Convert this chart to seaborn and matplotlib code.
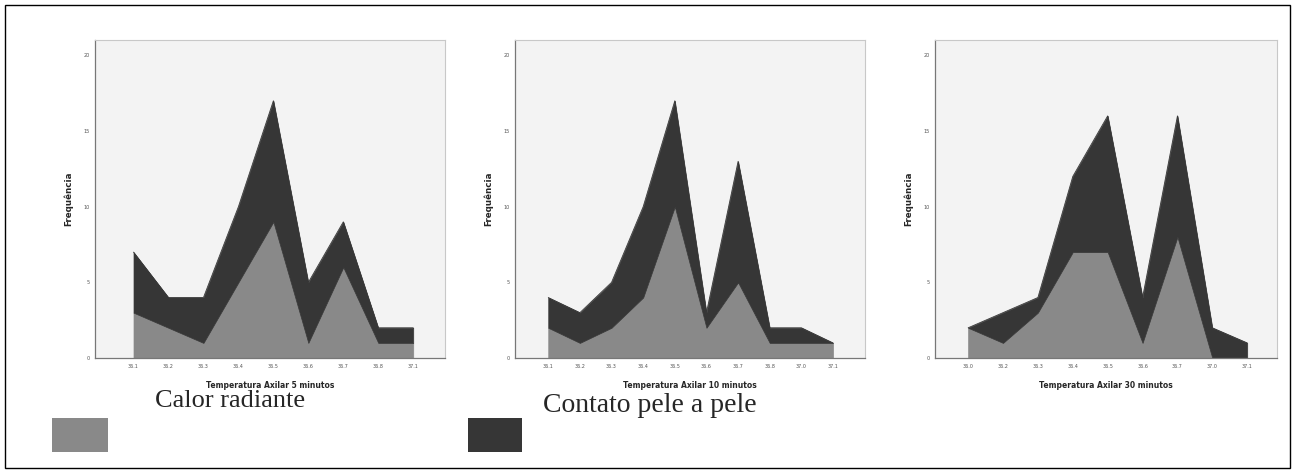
import numpy as np
import pandas as pd
import seaborn as sns
import matplotlib.pyplot as plt
from matplotlib.patches import Rectangle

# Data (frequencies per axillary temperature)
temps_5 = ["36.1", "36.2", "36.3", "36.4", "36.5", "36.6", "36.7", "36.8", "37.1"]
calor_5 = [3, 2, 1, 5, 9, 1, 6, 1, 1]
contato_5 = [4, 2, 3, 5, 8, 4, 3, 1, 1]

temps_10 = ["36.1", "36.2", "36.3", "36.4", "36.5", "36.6", "36.7", "36.8", "37.0", "37.1"]
calor_10 = [2, 1, 2, 4, 10, 2, 5, 1, 1, 1]
contato_10 = [2, 2, 3, 6, 7, 1, 8, 1, 1, 0]

temps_30 = ["36.0", "36.2", "36.3", "36.4", "36.5", "36.6", "36.7", "37.0", "37.1"]
calor_30 = [2, 1, 3, 7, 7, 1, 8, 0, 0]
contato_30 = [0, 2, 1, 5, 9, 3, 8, 2, 1]

xlabels = ["Temperatura Axilar 5 minutos", "Temperatura Axilar 10 minutos",
           "Temperatura Axilar 30 minutos"]
series_names = ["Calor radiante", "Contato pele a pele"]
yticks = [0, 5, 10, 15, 20]

GREY = "#898989"
DARK = "#363636"

sns.set_style("white")
plt.rcParams["font.family"] = ["DejaVu Sans"]

fig = plt.figure(figsize=(12.95, 4.73), dpi=100)
fig.patch.set_facecolor("white")
fig.patches.append(Rectangle((0.004, 0.01), 0.992, 0.98, transform=fig.transFigure,
                             fill=False, edgecolor="black", linewidth=1.0))

panels = [
    (temps_5, calor_5, contato_5, [0.0734, 0.243, 0.270, 0.672], (-1.1, 8.9)),
    (temps_10, calor_10, contato_10, [0.3977, 0.243, 0.270, 0.672], (-1.05, 10.0)),
    (temps_30, calor_30, contato_30, [0.722, 0.243, 0.264, 0.672], (-0.95, 8.85)),
]

for (temps, calor, contato, rect, xlim), xlabel in zip(panels, xlabels):
    ax = fig.add_axes(rect)
    df = pd.DataFrame({"temp": temps, "calor": calor, "contato": contato})
    df["pos"] = np.arange(len(df))
    df["total"] = df["calor"] + df["contato"]
    polys = ax.stackplot(df["pos"], df["calor"], df["contato"], colors=[GREY, DARK])
    for poly, c in zip(polys, [GREY, DARK]):
        poly.set_edgecolor(c)
        poly.set_linewidth(0.5)
    sns.lineplot(data=df, x="pos", y="total", ax=ax, color=DARK, linewidth=0.6)
    ax.set_facecolor("#f3f3f3")
    ax.set_xlim(*xlim)
    ax.set_ylim(0, 21)
    ax.set_xticks(df["pos"])
    ax.set_xticklabels(df["temp"], fontsize=3.5)
    ax.set_yticks(yticks)
    ax.set_yticklabels(yticks, fontsize=3.5)
    ax.tick_params(axis="both", length=2, width=0.6, pad=2, colors="#555555")
    ax.set_xlabel(xlabel, fontsize=5.5, fontweight="bold", labelpad=9)
    ax.set_ylabel("Frequência", fontsize=6.3, fontweight="bold", labelpad=7)
    for side in ["top", "right"]:
        ax.spines[side].set_color("#c8c8c8")
        ax.spines[side].set_linewidth(0.8)
    for side in ["left", "bottom"]:
        ax.spines[side].set_color("#777777")
        ax.spines[side].set_linewidth(0.9)

# Legend below the panels
fig.patches.append(Rectangle((52 / 1295, 1 - 452 / 473), 56 / 1295, 34 / 473,
                             transform=fig.transFigure, facecolor=GREY, edgecolor="none"))
fig.patches.append(Rectangle((468 / 1295, 1 - 452 / 473), 54 / 1295, 34 / 473,
                             transform=fig.transFigure, facecolor=DARK, edgecolor="none"))
fig.text(155 / 1295, 1 - 401 / 473, series_names[0], fontsize=19,
         family="Liberation Serif", va="center", ha="left")
fig.text(543 / 1295, 1 - 406 / 473, series_names[1], fontsize=20,
         family="Liberation Serif", va="center", ha="left")

fig.savefig("out.png", dpi=100)
